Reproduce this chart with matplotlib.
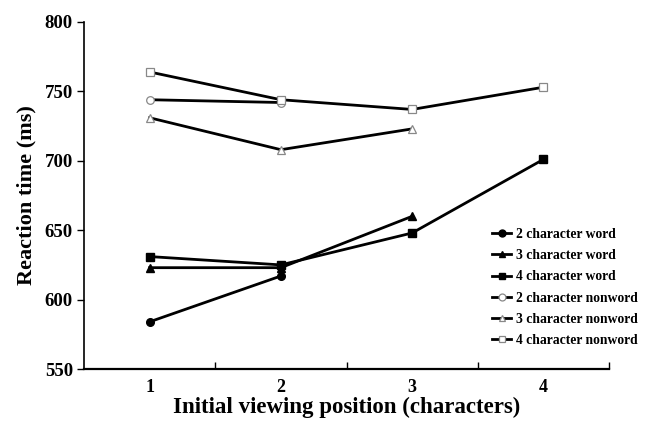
import matplotlib
matplotlib.use("Agg")
import matplotlib.pyplot as plt
from matplotlib.ticker import FixedLocator

positions = [1, 2, 3, 4]
labels = ["2 character word", "3 character word", "4 character word",
          "2 character nonword", "3 character nonword", "4 character nonword"]
word2 = [584, 617]
word3 = [623, 623, 660]
word4 = [631, 625, 648, 701]
nonword2 = [744, 742]
nonword3 = [731, 708, 723]
nonword4 = [764, 744, 737, 753]

series = [word2, word3, word4, nonword2, nonword3, nonword4]
markers = ["o", "^", "s", "o", "^", "s"]
filled = [True, True, True, False, False, False]

plt.rcParams['font.family'] = ['Liberation Serif', 'DejaVu Serif']
plt.rcParams['font.weight'] = 'bold'

fig = plt.figure(figsize=(6.53, 4.24), dpi=100)
ax = fig.add_axes([84/653, 1-369/424, (609-84)/653, (369-22)/424])

for vals, m, f, lab in zip(series, markers, filled, labels):
    ax.plot(positions[:len(vals)], vals, color='black', lw=2,
            marker=m, markersize=6 if m != 'o' else 5.5,
            markerfacecolor='black' if f else 'white',
            markeredgecolor='black' if f else '#888888',
            markeredgewidth=1 if f else 0.9, label=lab, zorder=3)

ax.set_xlim(0.5, 4.5)
ax.set_ylim(550, 800)
ax.set_yticks([550, 600, 650, 700, 750, 800])
ax.set_xticks(positions)
ax.xaxis.set_minor_locator(FixedLocator([1.5, 2.5, 3.5, 4.5]))
ax.tick_params(axis='x', which='major', length=0, pad=7, labelsize=13)
ax.tick_params(axis='x', which='minor', direction='in', length=5, width=1)
ax.tick_params(axis='y', direction='out', length=5, width=1, labelsize=13.5, pad=3)
for s in ['top', 'right']:
    ax.spines[s].set_visible(False)
ax.spines['left'].set_linewidth(1.2)
ax.spines['bottom'].set_linewidth(1.6)

ax.set_xlabel("Initial viewing position (characters)", fontsize=16.5, fontweight='bold', labelpad=1)
ax.set_ylabel("Reaction time (ms)", fontsize=16, fontweight='bold', labelpad=6)

leg = ax.legend(loc='upper left', bbox_to_anchor=(408/525, 1-(228-22)/347),
                frameon=False, fontsize=9.8, handlelength=1.4, handletextpad=0.35,
                labelspacing=0.6, borderpad=0, borderaxespad=0)
for line in leg.get_lines():
    line.set_linewidth(2)
    line.set_markersize(5)

fig.savefig("out.png", dpi=100)
